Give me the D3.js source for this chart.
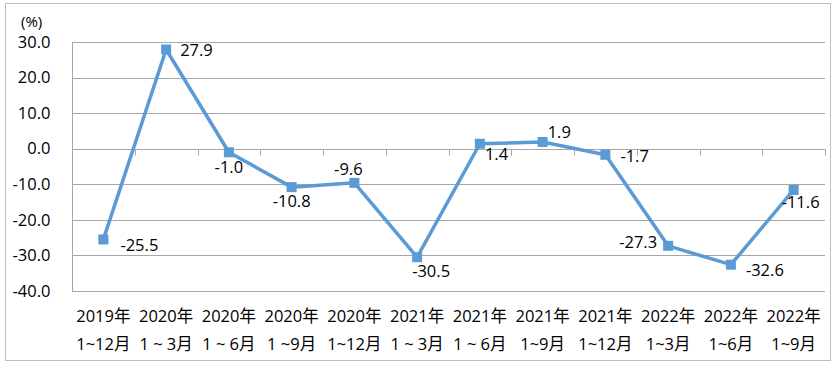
<!DOCTYPE html>
<html><head><meta charset="utf-8">
<script src="https://cdn.jsdelivr.net/npm/d3@7"></script>
<style>
html,body{margin:0;padding:0;background:#fff;}
text{font-family:"Open Sans","Noto Sans CJK SC","Noto Sans",sans-serif;fill:#000;}
</style></head>
<body><svg id="c" width="836" height="368"></svg>
<script>
const yearLabels = ["2019年","2020年","2020年","2020年","2020年","2021年","2021年","2021年","2021年","2022年","2022年","2022年"];
const periodLabels = ["1~12月","1 ~ 3月","1 ~ 6月","1 ~9月","1~12月","1 ~ 3月","1 ~ 6月","1~9月","1~12月","1~3月","1~6月","1~9月"];
const values = [-25.5, 27.9, -1.0, -10.8, -9.6, -30.5, 1.4, 1.9, -1.7, -27.3, -32.6, -11.6];
const yTicks = [30, 20, 10, 0, -10, -20, -30, -40];
const unitLabel = "(%)";
// label layout: [dx, dy, anchor] relative to each point
const labelLayout = [[17,12,"start"],[14,7,"start"],[0,21,"middle"],[0,20,"middle"],[-6,-8,"middle"],
  [-5,20,"start"],[5,16,"start"],[5,-4,"start"],[15,7,"start"],[-11,2,"end"],[15,11,"start"],[-12,18,"start"]];

(function(){
const FS = 16.5;
const svg = d3.select("#c");
svg.append("rect").attr("x",5.5).attr("y",3.5).attr("width",825).attr("height",357)
  .attr("fill","#fff").attr("stroke","#bfbfbf").attr("stroke-width",1);

const pLeft = 72, pRight = 825, pTop = 42, pBottom = 291;
const idx = values.map((d,i)=>i);
const x = d3.scaleBand().domain(idx).range([pLeft,pRight]).padding(0);
const y = d3.scaleLinear().domain([-40,30]).range([pBottom,pTop]);

// gridlines
svg.append("g").selectAll("line").data(yTicks).join("line")
  .attr("x1",pLeft).attr("x2",pRight)
  .attr("y1",d=>Math.round(y(d))+0.5).attr("y2",d=>Math.round(y(d))+0.5)
  .attr("stroke","#a6a6a6").attr("stroke-width",1);

// y axis
const yAxis = d3.axisLeft(y).tickValues(yTicks).tickFormat(d3.format(".1f")).tickSize(0).tickPadding(22);
const gy = svg.append("g").attr("transform",`translate(${pLeft+0.5},0)`).call(yAxis);
gy.attr("font-family",null).attr("font-size",null);
gy.select(".domain").attr("stroke","#a6a6a6").attr("d",`M0,${pTop}V${pBottom}`);
gy.selectAll("text").attr("font-size",FS)
  .text(d=>d3.format(".1f")(d).replace("−","-"));

svg.append("text").attr("x",21).attr("y",27).attr("font-size",15).text(unitLabel);

// x axis at zero with boundary ticks
const y0 = Math.round(y(0))+0.5;
const bounds = idx.map(i=>x(i)).concat([pRight]);
svg.append("g").selectAll("line").data(bounds).join("line")
  .attr("x1",d=>Math.round(d)+0.5).attr("x2",d=>Math.round(d)+0.5)
  .attr("y1",y0).attr("y2",y0+6).attr("stroke","#a6a6a6");

// x labels
const gx = svg.append("g");
gx.selectAll("text.yr").data(idx).join("text").attr("class","yr")
  .attr("x",i=>x(i)+x.bandwidth()/2).attr("y",322).attr("text-anchor","middle")
  .attr("font-size",FS).text(i=>yearLabels[i]);
gx.selectAll("text.pd").data(idx).join("text").attr("class","pd")
  .attr("x",i=>x(i)+x.bandwidth()/2).attr("y",350).attr("text-anchor","middle")
  .attr("font-size",FS).text(i=>periodLabels[i]);

// line
const cx = i=>x(i)+x.bandwidth()/2;
const line = d3.line().x((d,i)=>cx(i)).y(d=>y(d));
svg.append("path").datum(values).attr("d",line).attr("fill","none")
  .attr("stroke","#5b9bd5").attr("stroke-width",3.5).attr("stroke-linejoin","round");
svg.append("g").selectAll("rect").data(values).join("rect")
  .attr("x",(d,i)=>cx(i)-5).attr("y",d=>y(d)-5).attr("width",10).attr("height",10)
  .attr("fill","#5b9bd5");

// data labels
svg.append("g").selectAll("text").data(values).join("text")
  .attr("x",(d,i)=>cx(i)+labelLayout[i][0])
  .attr("y",(d,i)=>y(d)+labelLayout[i][1])
  .attr("text-anchor",(d,i)=>labelLayout[i][2])
  .attr("font-size",FS)
  .text(d=>d.toFixed(1));
})();
</script></body></html>
